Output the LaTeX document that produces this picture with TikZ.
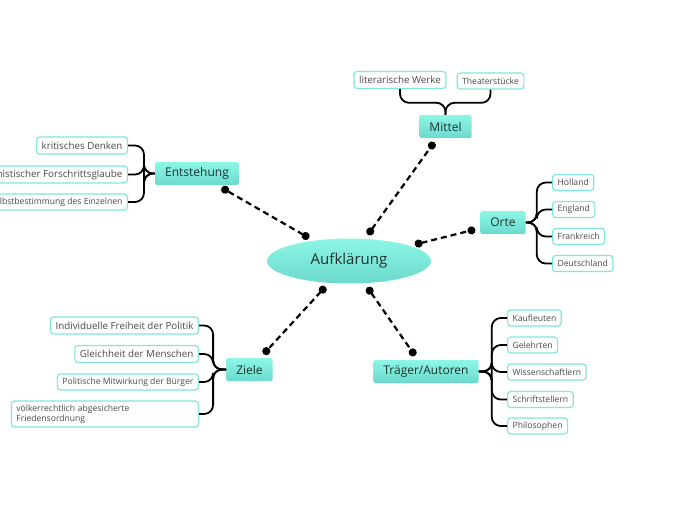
\documentclass[tikz,border=0pt]{standalone}
\usepackage{fontspec}
\setmainfont{Open Sans}
\usetikzlibrary{
    arrows.meta,
    shapes.geometric
}

\definecolor{aquaTop}{HTML}{8DF7E6}
\definecolor{aquaBot}{HTML}{6BD9CC}
\definecolor{aquaLine}{HTML}{7EE8DA}
\definecolor{inkDark}{HTML}{1E3330}
\definecolor{inkGray}{HTML}{4A4A4A}

\begin{document}
\begin{tikzpicture}[
    x=1pt, y=-1pt,
    topic/.style={rectangle, rounded corners=1.5pt,
                  top color=aquaTop, bottom color=aquaBot,
                  minimum height=23pt, inner xsep=10pt,
                  font=\fontsize{12}{14}\selectfont, text=inkDark},
    leaf/.style={rectangle, rounded corners=3pt, draw=aquaLine,
                 line width=1.2pt, fill=white,
                 minimum height=17pt, inner xsep=5pt, inner ysep=2pt,
                 font=\fontsize{9.8}{11}\selectfont, text=inkGray},
    smallleaf/.style={leaf, minimum height=16pt,
                      font=\fontsize{8.6}{10}\selectfont},
    bracket/.style={line width=1.8pt, rounded corners=9pt},
    link/.style={line width=2.2pt, dash pattern=on 6pt off 4pt,
                 {Circle[length=8pt]}-{Circle[length=8pt]},
                 shorten <=5pt, shorten >=5pt}
]
\useasboundingbox (0,0) rectangle (697,520);

% =========================
% 1) CENTRE AND TOPICS
% =========================
\node[ellipse, top color=aquaTop, bottom color=aquaBot,
      minimum width=164pt, minimum height=45pt,
      font=\fontsize{15}{17}\selectfont, text=inkDark] (auf) at (349,261) {Aufklärung};

\node[topic] (entst)  at (197,173.5) {Entstehung};
\node[topic] (mittel) at (445.5,126.5) {Mittel};
\node[topic] (orte)   at (503,222.5) {Orte};
\node[topic] (ziele)  at (249.5,369.5) {Ziele};
\node[topic] (traeg)  at (426,371.5) {Träger/Autoren};

\draw[link] (auf) -- (entst);
\draw[link] (auf) -- (mittel);
\draw[link] (auf) -- (orte);
\draw[link] (auf) -- (ziele);
\draw[link] (auf) -- (traeg);

% =========================
% 2) ENTSTEHUNG
% =========================
\node[leaf, anchor=east]      (ent1) at (128,145.5) {kritisches Denken};
\node[leaf, anchor=east]      (ent2) at (128,174.5) {Optimistischer Forschrittsglaube};
\node[smallleaf, anchor=east] (ent3) at (128,202)   {Selbstbestimmung des Einzelnen};
\foreach \c in {ent1,ent2,ent3}
    \draw[bracket] (entst.west) -- ++(-11,0) |- (\c.east);

% =========================
% 3) MITTEL
% =========================
\node[leaf]      (mit1) at (400,80)   {literarische Werke};
\node[smallleaf] (mit2) at (490.5,81) {Theaterstücke};
\foreach \c in {mit1,mit2}
    \draw[bracket] (mittel.north) -- ++(0,-12) -| (\c.south);

% =========================
% 4) ORTE
% =========================
\node[smallleaf, anchor=west] (ort1) at (552,182.5) {Holland};
\node[smallleaf, anchor=west] (ort2) at (552,209.5) {England};
\node[smallleaf, anchor=west] (ort3) at (552,236.5) {Frankreich};
\node[smallleaf, anchor=west] (ort4) at (552,263.5) {Deutschland};
\foreach \c in {ort1,ort2,ort3,ort4}
    \draw[bracket] (orte.east) -- ++(11,0) |- (\c.west);

% =========================
% 5) ZIELE
% =========================
\node[leaf, anchor=east]      (zie1) at (199,325.5) {Individuelle Freiheit der Politik};
\node[leaf, anchor=east]      (zie2) at (199,354)   {Gleichheit der Menschen};
\node[smallleaf, anchor=east] (zie3) at (199,382)   {Politische Mitwirkung der Bürger};
\node[smallleaf, anchor=east, text width=177pt, align=left,
      minimum height=26pt] (zie4) at (199,414)
    {völkerrechtlich abgesicherte\\Friedensordnung};
\foreach \c in {zie1,zie2,zie3,zie4}
    \draw[bracket] (ziele.west) -- ++(-13,0) |- (\c.east);

% =========================
% 6) TRAEGER / AUTOREN
% =========================
\node[smallleaf, anchor=west] (tra1) at (507,318)   {Kaufleuten};
\node[smallleaf, anchor=west] (tra2) at (507,345)   {Gelehrten};
\node[smallleaf, anchor=west] (tra3) at (507,372)   {Wissenschaftlern};
\node[smallleaf, anchor=west] (tra4) at (507,399.5) {Schriftstellern};
\node[smallleaf, anchor=west] (tra5) at (507,426)   {Philosophen};
\foreach \c in {tra1,tra2,tra3,tra4,tra5}
    \draw[bracket] (traeg.east) -- ++(13,0) |- (\c.west);

\end{tikzpicture}
\end{document}
